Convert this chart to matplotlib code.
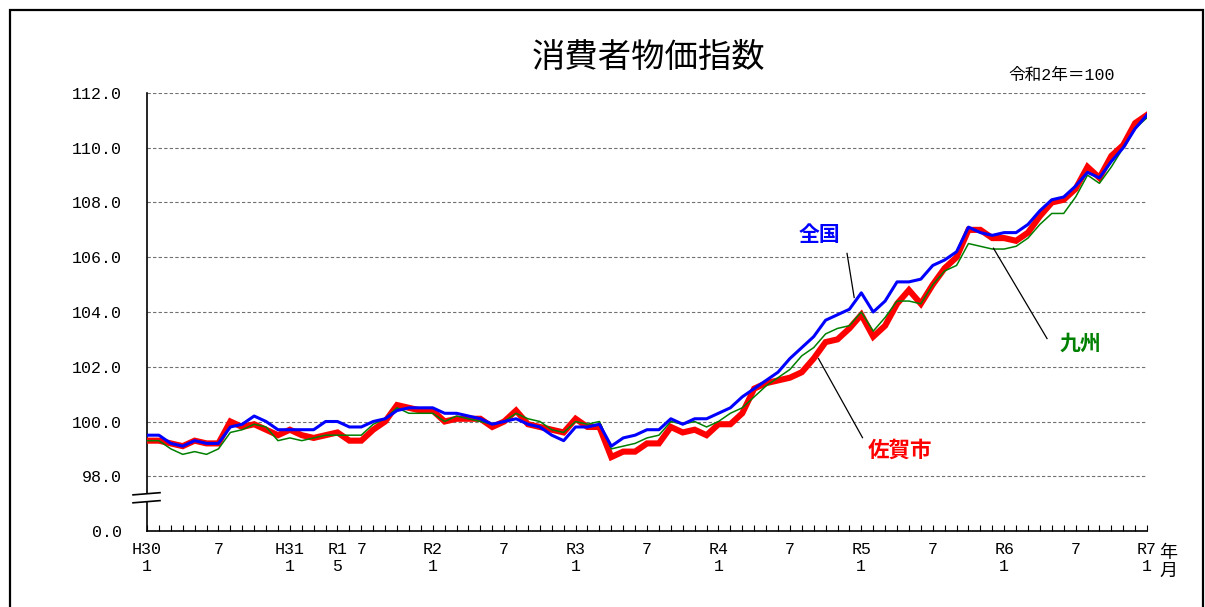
import matplotlib.pyplot as plt
import matplotlib.transforms as mtransforms
from matplotlib.patches import Rectangle

plt.rcParams['font.family'] = ['Liberation Mono', 'Noto Sans CJK JP']

# monthly index, H30.1 (2018/1) .. R7.1 (2025/1), 令和2年=100
zenkoku = [
    99.5, 99.5, 99.2, 99.1, 99.3, 99.2, 99.2, 99.8, 99.9, 100.2, 100.0, 99.7,
    99.7, 99.7, 99.7, 100.0, 100.0, 99.8, 99.8, 100.0, 100.1, 100.4, 100.5, 100.5,
    100.5, 100.3, 100.3, 100.2, 100.1, 99.9, 100.0, 100.1, 99.9, 99.8, 99.5, 99.3,
    99.8, 99.8, 99.9, 99.1, 99.4, 99.5, 99.7, 99.7, 100.1, 99.9, 100.1, 100.1,
    100.3, 100.5, 100.9, 101.2, 101.5, 101.8, 102.3, 102.7, 103.1, 103.7, 103.9, 104.1,
    104.7, 104.0, 104.4, 105.1, 105.1, 105.2, 105.7, 105.9, 106.2, 107.1, 106.9, 106.8,
    106.9, 106.9, 107.2, 107.7, 108.1, 108.2, 108.6, 109.1, 108.9, 109.5, 110.0, 110.7,
    111.2,
]
kyushu = [
    99.3, 99.3, 99.0, 98.8, 98.9, 98.8, 99.0, 99.6, 99.7, 99.9, 99.8, 99.3,
    99.4, 99.3, 99.4, 99.5, 99.5, 99.5, 99.5, 99.9, 100.1, 100.5, 100.3, 100.3,
    100.3, 100.0, 100.2, 100.1, 100.0, 99.9, 100.0, 100.3, 100.1, 100.0, 99.7, 99.6,
    100.0, 99.9, 100.0, 99.0, 99.1, 99.2, 99.4, 99.5, 100.0, 99.9, 100.0, 99.8,
    100.0, 100.3, 100.5, 100.9, 101.3, 101.6, 101.9, 102.4, 102.7, 103.2, 103.4, 103.5,
    104.0, 103.3, 103.8, 104.4, 104.4, 104.3, 105.0, 105.5, 105.7, 106.5, 106.4, 106.3,
    106.3, 106.4, 106.7, 107.2, 107.6, 107.6, 108.2, 109.0, 108.7, 109.3, 110.0, 110.7,
    111.1,
]
saga = [
    99.3, 99.3, 99.2, 99.1, 99.3, 99.2, 99.2, 100.0, 99.8, 99.9, 99.7, 99.5,
    99.7, 99.5, 99.4, 99.5, 99.6, 99.3, 99.3, 99.7, 100.0, 100.6, 100.5, 100.4,
    100.4, 100.0, 100.1, 100.1, 100.1, 99.8, 100.0, 100.4, 99.9, 99.8, 99.7, 99.6,
    100.1, 99.8, 99.8, 98.7, 98.9, 98.9, 99.2, 99.2, 99.8, 99.6, 99.7, 99.5,
    99.9, 99.9, 100.3, 101.2, 101.4, 101.5, 101.6, 101.8, 102.3, 102.9, 103.0, 103.4,
    103.9, 103.1, 103.5, 104.3, 104.8, 104.3, 105.0, 105.6, 106.0, 107.0, 107.0, 106.7,
    106.7, 106.6, 106.9, 107.5, 108.0, 108.1, 108.5, 109.3, 108.9, 109.7, 110.1, 110.9,
    111.2,
]
months = list(range(len(zenkoku)))

xtick_pos = [0, 6, 12, 16, 18, 24, 30, 36, 42, 48, 54, 60, 66, 72, 78, 84]
xtick_labels = ["H30\n1", "7", "H31\n1", "R1\n5", "7", "R2\n1", "7", "R3\n1",
                "7", "R4\n1", "7", "R5\n1", "7", "R6\n1", "7", "R7\n1"]
ytick_pos = [96, 98, 100, 102, 104, 106, 108, 110, 112]
ytick_labels = ["0.0", "98.0", "100.0", "102.0", "104.0", "106.0", "108.0", "110.0", "112.0"]

fig = plt.figure(figsize=(12.05, 6.07), dpi=100)
ax = fig.add_axes([0.122, 0.1252, 0.8299, 0.7216])

ax.plot(months, saga, color="#ff0000", lw=4.4, solid_joinstyle="miter", zorder=3)
ax.plot(months, kyushu, color="#008000", lw=1.1, zorder=4)
ax.plot(months, zenkoku, color="#0000ff", lw=2.2, zorder=5)

ax.set_xlim(0, 84)
ax.set_ylim(96, 112)

for v in ytick_pos[1:]:
    ax.axhline(v, color="#707070", lw=0.8, ls=(0, (3, 2)), zorder=1)

ax.set_yticks(ytick_pos)
ax.set_yticklabels(ytick_labels)
ax.tick_params(axis="y", length=0, pad=18, labelsize=12)

ax.set_xticks(xtick_pos)
ax.set_xticklabels(xtick_labels, linespacing=1.15)
ax.set_xticks(months, minor=True)
ax.tick_params(axis="x", which="both", direction="in", length=4, width=0.8,
               pad=8, labelsize=12)

for s in ["top", "right"]:
    ax.spines[s].set_visible(False)
ax.spines["bottom"].set_linewidth(1.2)
ax.spines["left"].set_linewidth(1.2)
ax.spines["left"].set_bounds(97.37, 112)
ax.axvline(0, ymin=0, ymax=(97.07 - 96) / 16, color="black", lw=1.2, clip_on=False)

# axis break marks
tr = mtransforms.blended_transform_factory(ax.transAxes, ax.transData)
ax.plot([-0.014, 0.013], [97.32, 97.40], color="black", lw=1.2, transform=tr, clip_on=False)
ax.plot([-0.014, 0.013], [97.03, 97.11], color="black", lw=1.2, transform=tr, clip_on=False)

# series labels with leader lines
cjk = ["Noto Sans CJK JP"]
ax.plot([58.8, 59.4], [106.14, 104.53], color="black", lw=0.9, zorder=6)
ax.text(56.5, 106.84, "全国", color="#0000ff", fontsize=15, fontweight="bold",
        family=cjk, ha="center", va="center")
ax.plot([56.4, 60.1], [102.30, 99.41], color="black", lw=0.9, zorder=6)
ax.text(63.25, 98.94, "佐賀市", color="#ff0000", fontsize=15.5, fontweight="bold",
        family=cjk, ha="center", va="center")
ax.plot([71.1, 75.6], [106.33, 103.03], color="black", lw=0.9, zorder=6)
ax.text(78.4, 102.85, "九州", color="#008000", fontsize=15, fontweight="bold",
        family=cjk, ha="center", va="center")

fig.text(0.538, 0.906, "消費者物価指数", fontsize=24, family=cjk, ha="center", va="center")
fig.text(0.881, 0.875, "令和2年＝100", fontsize=12, ha="center", va="center")
fig.text(0.962, 0.104, "年\n月", fontsize=13, family=cjk, ha="left", va="top", linespacing=1.0)

fig.patches.append(Rectangle((0.0083, -0.1), 0.9900, 1.0835, transform=fig.transFigure,
                             fill=False, lw=1.6, edgecolor="black"))

fig.savefig("out.png", dpi=100)
